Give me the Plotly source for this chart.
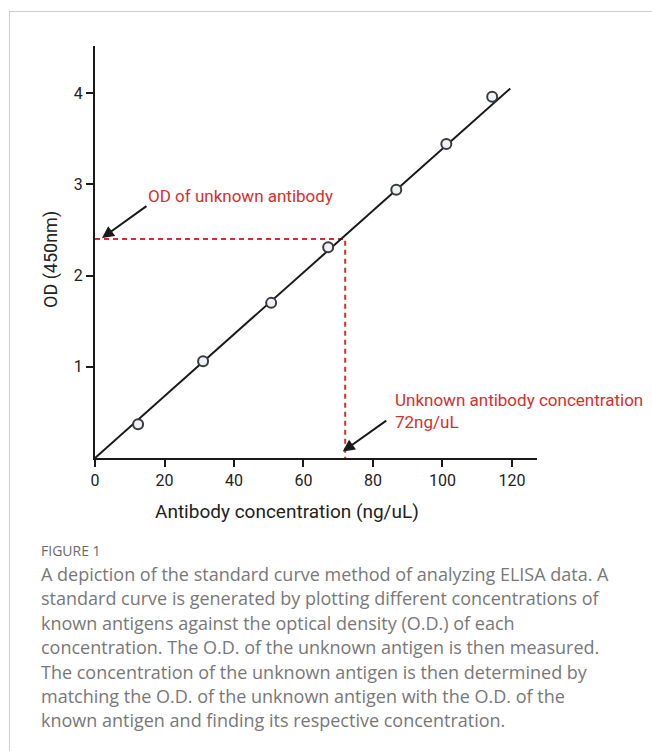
import plotly.graph_objects as go

# ---- data ----
conc = [12.4, 31.1, 50.7, 67.1, 86.7, 101.1, 114.3]
od = [0.37, 1.06, 1.70, 2.31, 2.94, 3.44, 3.96]
fit_x = [0, 119.5]
fit_y = [0, 4.05]
unknown_od = 2.4
unknown_conc = 72
x_ticks = [0, 20, 40, 60, 80, 100, 120]
y_ticks = [1, 2, 3, 4]
x_title = "Antibody concentration (ng/uL)"
y_title = "OD (450nm)"
caption_title = "FIGURE 1"
caption_lines = [
    "A depiction of the standard curve method of analyzing ELISA data. A",
    "standard curve is generated by plotting different concentrations of",
    "known antigens against the optical density (O.D.) of each",
    "concentration. The O.D. of the unknown antigen is then measured.",
    "The concentration of the unknown antigen is then determined by",
    "matching the O.D. of the unknown antigen with the O.D. of the",
    "known antigen and finding its respective concentration.",
]

W, H = 652, 751
L, R, T, B = 95, 115, 46, 293
PW, PH = W - L - R, H - T - B
XR = [0, 127.2]
YR = [0, 4.515]
RED = "#d2302f"


def px(x):
    return (x - L) / PW


def py(y):
    return (H - B - y) / PH


fig = go.Figure()

# dashed guide lines
fig.add_trace(go.Scatter(
    x=[0, unknown_conc, unknown_conc], y=[unknown_od, unknown_od, 0],
    mode="lines", line=dict(color=RED, width=2, dash="5px,4px"),
    hoverinfo="skip", showlegend=False, cliponaxis=False))

# fit line
fig.add_trace(go.Scatter(
    x=fit_x, y=fit_y, mode="lines",
    line=dict(color="#1a1a1a", width=2), showlegend=False, cliponaxis=False))

# data points
fig.add_trace(go.Scatter(
    x=conc, y=od, mode="markers",
    marker=dict(size=10, color="#eef2f8", line=dict(color="#3a3a3a", width=2)),
    showlegend=False, cliponaxis=False))

fig.update_xaxes(
    range=XR, tickvals=x_ticks, showgrid=False, zeroline=False,
    showline=True, linecolor="#1a1a1a", linewidth=2,
    ticks="outside", ticklen=7, tickwidth=2, tickcolor="#1a1a1a",
    tickfont=dict(family="Roboto", size=16, color="#222"),
)
fig.update_yaxes(
    range=YR, tickvals=y_ticks, showgrid=False, zeroline=False,
    showline=True, linecolor="#1a1a1a", linewidth=2,
    ticks="outside", ticklen=7, tickwidth=2, tickcolor="#1a1a1a",
    tickfont=dict(family="Roboto", size=16, color="#222"),
)

ann = []
# axis titles
ann.append(dict(x=px(287), y=py(511), xref="paper", yref="paper",
                xanchor="center", yanchor="middle", showarrow=False,
                text=x_title, font=dict(family="Roboto", size=19, color="#222")))
ann.append(dict(x=px(51), y=py(260), xref="paper", yref="paper",
                xanchor="center", yanchor="middle", showarrow=False,
                textangle=-90,
                text=y_title, font=dict(family="Roboto", size=18, color="#222")))
# arrow annotations
ann.append(dict(x=2.0, y=2.41, xref="x", yref="y", ax=46, ay=-33,
                showarrow=True, arrowhead=2, arrowsize=1.2, arrowwidth=2,
                arrowcolor="#1a1a1a", text=""))
ann.append(dict(x=71.3, y=0.07, xref="x", yref="y", ax=45, ay=-32,
                showarrow=True, arrowhead=2, arrowsize=1.2, arrowwidth=2,
                arrowcolor="#1a1a1a", text=""))
ann.append(dict(x=px(146), y=py(196), xref="paper", yref="paper",
                xanchor="left", yanchor="middle", showarrow=False,
                text="OD of unknown antibody",
                font=dict(family="Roboto", size=17, color=RED)))
ann.append(dict(x=px(393), y=py(411), xref="paper", yref="paper",
                xanchor="left", yanchor="middle", showarrow=False, align="left",
                text="Unknown antibody concentration<br>72ng/uL",
                font=dict(family="Roboto", size=17, color=RED)))
# caption
ann.append(dict(x=px(39), y=py(550), xref="paper", yref="paper",
                xanchor="left", yanchor="middle", showarrow=False,
                text=caption_title,
                font=dict(family="Open Sans", size=14, color="#6a6a6a")))
for i, line in enumerate(caption_lines):
    ann.append(dict(x=px(39), y=py(574 + i * 24.4), xref="paper", yref="paper",
                    xanchor="left", yanchor="middle", showarrow=False,
                    text=line,
                    font=dict(family="Open Sans", size=18, color="#787878")))

shapes = [
    dict(type="line", xref="paper", yref="paper", x0=px(9.5), x1=px(9.5),
         y0=py(11), y1=py(751), line=dict(color="#cccccc", width=1)),
    dict(type="line", xref="paper", yref="paper", x0=px(9.5), x1=px(652),
         y0=py(11.5), y1=py(11.5), line=dict(color="#cccccc", width=1)),
]

fig.update_layout(
    width=W, height=H, margin=dict(l=L, r=R, t=T, b=B),
    paper_bgcolor="white", plot_bgcolor="white",
    annotations=ann, shapes=shapes, showlegend=False,
)

fig.write_html("out.html")
